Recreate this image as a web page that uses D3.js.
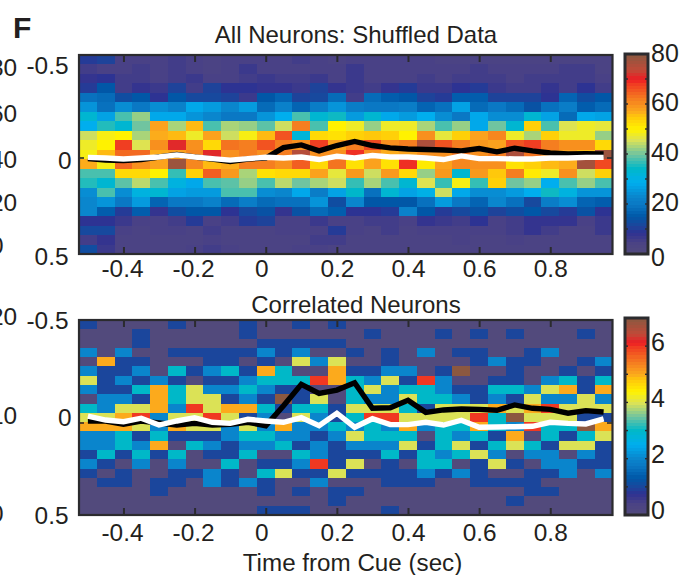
<!DOCTYPE html>
<html>
<head>
<meta charset="utf-8">
<script src="https://cdn.jsdelivr.net/npm/d3@7"></script>
<style>
  html, body { margin: 0; padding: 0; background: #fff; overflow: hidden; }
  text { font-family: "Liberation Sans", Arial, sans-serif; fill: #231f20; }
</style>
</head>
<body>
<script>
// time bins, sec
const timeBins = [-0.5,-0.45,-0.4,-0.35,-0.3,-0.25,-0.2,-0.15,-0.1,-0.05,0,0.05,0.1,0.15,0.2,0.25,0.3,0.35,0.4,0.45,0.5,0.55,0.6,0.65,0.7,0.75,0.8,0.85,0.9,0.95];
const xTicks = [-0.4,-0.2,0,0.2,0.4,0.6,0.8];
const yTicks = [-0.5,0,0.5];
const rowBins = d3.range(21);

// all neurons, shuffled: one line per row, top to bottom
const shuffledCounts = [
  [10,11,5,5,5,6,5,4,5,5, 5,5,6,5,4,5,5,5,5,5, 4,4,4,4,4,4,4,4,4,4],
  [6,5,5,6,5,6,5,4,5,7, 5,5,5,5,5,7,5,5,5,5, 5,5,6,5,5,5,5,6,6,4],
  [8,9,6,6,5,6,7,5,5,6, 7,6,6,7,5,7,5,5,5,6, 5,6,6,6,5,6,6,6,6,5],
  [10,15,6,8,7,11,6,11,9,9, 8,8,7,11,8,7,6,8,10,7, 7,9,10,7,6,6,8,6,9,6],
  [19,18,13,15,9,15,12,12,11,7, 15,17,11,12,18,6,18,16,15,11, 10,16,16,11,11,11,9,17,13,15],
  [25,19,24,20,24,22,28,26,23,26, 18,22,17,21,25,21,20,20,21,17, 19,27,18,20,18,14,19,21,16,18],
  [33,27,38,42,28,28,25,23,20,20, 25,29,38,33,35,26,33,28,26,29, 24,20,28,24,24,33,27,18,28,27],
  [29,36,33,40,58,43,56,38,43,42, 39,45,62,38,50,48,42,48,48,43, 38,42,28,40,33,54,38,46,48,47],
  [45,49,50,43,57,56,48,58,45,49, 56,66,32,53,52,54,55,54,50,60, 47,54,58,61,48,43,54,48,48,42],
  [48,50,68,46,60,71,60,53,63,62, 66,62,60,68,58,62,67,60,62,76, 66,62,59,58,66,68,62,60,60,53],
  [49,56,64,64,57,58,61,71,60,62, 60,62,75,60,60,69,60,57,58,60, 60,63,60,62,76,63,60,58,56,78],
  [57,49,64,60,58,78,61,56,57,62, 62,60,65,53,63,52,58,52,69,51, 58,61,60,60,52,54,56,57,77,67],
  [38,38,53,53,50,37,54,65,59,43, 52,53,53,58,47,59,45,59,53,42, 59,33,59,55,62,51,48,60,45,54],
  [36,33,39,44,38,31,28,38,39,42, 38,44,40,43,45,37,43,38,33,46, 37,49,37,54,40,42,29,38,42,38],
  [24,38,24,31,33,27,26,26,38,38, 24,23,28,21,27,34,19,33,27,30, 45,28,24,24,26,29,35,31,25,25],
  [23,25,20,26,17,20,20,22,18,21, 18,19,19,25,13,23,15,15,15,19, 26,20,17,23,19,12,21,24,17,16],
  [23,16,10,16,8,13,15,15,9,12, 14,8,14,18,16,9,9,10,22,15, 10,12,14,11,13,15,12,10,14,9],
  [9,9,7,5,5,6,10,5,6,10, 11,5,5,7,5,5,6,6,5,8, 7,6,9,5,6,8,8,8,5,7],
  [12,12,5,4,5,5,4,6,4,4, 4,5,5,5,10,5,4,6,4,5, 5,5,5,5,6,8,6,4,4,7],
  [6,8,4,4,4,4,4,5,4,4, 4,4,4,6,6,4,4,4,4,4, 4,5,4,4,5,4,4,4,4,4],
  [13,7,4,4,4,4,5,6,5,4, 4,4,5,5,4,4,4,4,4,4, 4,4,4,4,4,4,4,4,4,4]
];

// correlated neurons
const correlatedCounts = [
  [1,0,0,0,0,1,0,0,0,1, 0,0,1,0,1,0,0,0,0,0, 0,0,0,0,0,0,0,0,0,0],
  [0,0,0,1,0,0,0,0,0,1, 0,0,0,0,0,0,1,0,0,0, 1,0,1,0,1,0,0,0,1,0],
  [0,0,0,1,0,0,0,0,0,0, 1,1,1,1,1,0,0,0,0,0, 0,0,0,0,0,0,0,0,0,0],
  [2,0,2,0,0,1,1,1,1,1, 2,1,2,0,0,1,0,1,0,2, 0,1,1,0,0,1,2,0,0,0],
  [0,5,1,1,0,0,0,1,1,0, 1,0,4,2,4,0,0,1,0,0, 0,0,1,2,1,1,0,0,1,2],
  [2,1,1,2,0,3,1,2,3,1, 5,3,0,0,5,1,1,2,2,0, 1,7,0,0,1,0,0,1,0,1],
  [4,1,2,1,2,1,0,1,1,2, 3,3,3,6,5,3,2,4,1,6, 2,0,0,1,1,0,2,3,1,3],
  [2,1,1,3,5,3,4,2,2,3, 2,1,1,0,0,3,4,2,3,3, 2,1,1,3,3,2,4,5,1,5],
  [0,2,2,1,5,3,4,4,1,2, 1,7,1,4,0,3,2,2,4,3, 3,2,1,2,1,4,2,2,4,2],
  [3,2,4,4,5,2,6,4,5,5, 3,1,3,3,1,4,4,4,3,1, 4,4,4,5,4,5,6,4,4,4],
  [4,4,5,6,2,4,4,6,4,1, 2,0,4,2,1,3,6,6,4,4, 4,4,6,3,7,4,4,4,1,1],
  [5,5,5,4,2,5,4,4,2,4, 2,5,2,2,3,2,3,2,5,2, 3,3,5,3,2,6,3,3,7,5],
  [2,2,3,1,3,1,1,1,2,3, 3,2,2,1,2,4,3,3,3,0, 3,2,3,1,5,0,3,1,3,4],
  [2,2,3,2,5,0,3,2,1,2, 2,3,1,2,1,2,2,2,4,1, 3,4,1,3,4,3,1,4,4,1],
  [1,3,1,3,1,3,0,1,1,3, 0,0,3,2,1,1,1,3,1,3, 2,3,4,2,0,2,2,0,2,1],
  [2,1,0,2,0,2,0,0,3,0, 1,1,2,6,1,4,0,1,0,3, 3,0,1,4,1,0,2,2,1,1],
  [1,0,1,0,0,1,1,2,1,0, 3,4,1,1,4,1,1,1,1,2, 1,2,1,0,0,1,1,2,0,2],
  [0,1,1,0,1,1,0,2,1,2, 1,0,0,2,0,0,0,1,1,1, 0,0,1,1,1,1,0,0,0,0],
  [0,0,0,0,1,0,0,0,0,0, 1,0,1,0,1,1,0,0,0,0, 0,0,0,0,0,1,1,0,0,0],
  [0,0,0,0,0,0,0,0,0,0, 0,0,0,0,1,0,0,0,0,0, 0,0,0,0,1,0,0,0,0,0],
  [0,0,0,0,0,0,0,0,0,0, 1,1,1,0,0,0,0,1,0,0, 0,0,0,0,0,0,0,0,0,0]
];

// peak lag lines
const shuffledBlack = [.003,.011,.013,.008,-.005,-.018,-.005,.005,.018,.005,0,-.054,-.068,-.037,-.065,-.086,-.065,-.053,-.047,-.044,-.042,-.037,-.049,-.032,-.051,-.037,-.026,-.021,-.023,-.021];
const shuffledWhite = [-.003,0,.005,0,-.005,-.016,-.005,.003,.011,.003,-.004,0,-.005,.008,-.009,0,-.013,-.005,-.005,0,.008,-.011,.003,.003,.005,.005,0,0,-.003,-.003];
const correlatedBlack = [-.011,-.011,.007,-.011,0,.011,.002,.011,.007,-.004,.015,-.094,-.21,-.161,-.179,-.219,-.08,-.083,-.123,-.058,-.071,-.076,-.074,-.069,-.098,-.08,-.074,-.053,-.067,-.06];
const correlatedWhite = [-.038,-.016,-.007,-.026,.011,-.011,-.029,-.004,.002,-.02,-.011,-.004,-.029,.015,-.053,.023,-.023,.009,.009,-.004,.011,-.015,.023,.022,.02,.018,-.004,.002,.005,-.022];

// colormap, fraction of range
const cmapStops = [0,.06,.11,.143,.19,.25,.286,.36,.4286,.5,.571,.625,.69,.714,.78,.857,.875,.92,1];
const cmapColors = ["#524a7c","#4a4285","#2e3192","#1b469c","#0058a8","#0a78c4","#0a85cc","#00aeef","#00b8c8","#70c4a0","#dbe257","#fff200","#ffc60b","#fcaa1c","#f47a20","#f03822","#ed1c24","#c04a38","#8c5840"];
const cmap = d3.scaleLinear().domain(cmapStops).range(cmapColors).interpolate(d3.interpolateRgb).clamp(true);

const svg = d3.select("body").append("svg")
  .attr("width", 681)
  .attr("height", 575)
  .style("display", "block");

const axisFont = 24.4;
const x = d3.scaleLinear().domain([-0.525, 0.975]).range([79, 612.5]);

function drawPanel(o) {
  let g = svg.append("g");
  let colBand = d3.scaleBand().domain(timeBins).range(x.range());
  let rowBand = d3.scaleBand().domain(rowBins).range([o.top, o.bottom]);
  let y = d3.scaleLinear().domain([0, 0.5]).range([o.zero, o.bottom]);

  o.counts.forEach((row, r) => {
    g.append("g").attr("shape-rendering", "crispEdges").selectAll("rect")
      .data(row)
      .enter().append("rect")
      .attr("x", (d, i) => colBand(timeBins[i]))
      .attr("y", rowBand(r))
      .attr("width", colBand.bandwidth() + 0.5)
      .attr("height", rowBand.bandwidth() + 0.5)
      .attr("fill", d => cmap(d / o.max));
  });

  let line = d3.line().x((d, i) => x(timeBins[i])).y(d => y(d));
  g.append("path").attr("d", line(o.black))
    .attr("fill", "none").attr("stroke", "#000").attr("stroke-width", 5.4);
  g.append("path").attr("d", line(o.white))
    .attr("fill", "none").attr("stroke", "#fff").attr("stroke-width", 5.4);

  // box and inside ticks
  g.append("rect")
    .attr("x", x.range()[0]).attr("y", o.top)
    .attr("width", x.range()[1] - x.range()[0]).attr("height", o.bottom - o.top)
    .attr("fill", "none").attr("stroke", "#2b2b2e").attr("stroke-width", 2.2);

  let tickBottom = g.append("g").attr("transform", `translate(0,${o.bottom})`)
    .call(d3.axisBottom(x).tickValues(xTicks).tickSize(-7).tickFormat(d => d === 0 ? "0" : d3.format(".1f")(d).replace("\u2212", "-")));
  tickBottom.select(".domain").remove();
  tickBottom.selectAll("line").attr("stroke", "#2b2b2e").attr("stroke-width", 2);
  tickBottom.selectAll("text").attr("font-size", axisFont).style("font-family", null)
    .attr("x", d => d === 0 ? -4.5 : (d < 0 ? -1.5 : 0))
    .attr("y", o.labelY - o.bottom).attr("dy", "0.35em");

  let tickTop = g.append("g").attr("transform", `translate(0,${o.top})`)
    .call(d3.axisTop(x).tickValues(xTicks).tickSize(-7).tickFormat(""));
  tickTop.select(".domain").remove();
  tickTop.selectAll("line").attr("stroke", "#2b2b2e").attr("stroke-width", 2);

  // zero marks on both sides
  [[79, 84], [607, 612]].forEach(p => {
    g.append("line").attr("x1", p[0]).attr("x2", p[1]).attr("y1", y(0)).attr("y2", y(0))
      .attr("stroke", "#2b2b2e").attr("stroke-width", 1.6);
  });

  let labelScale = d3.scaleLinear().domain([-0.5, 0.5]).range(o.yLabelRange);
  g.selectAll(".ylab").data(yTicks).enter().append("text")
    .attr("x", d => d === 0 ? 71.5 : 68.5).attr("y", d => labelScale(d)).attr("dy", "0.35em")
    .attr("text-anchor", "end").attr("font-size", axisFont)
    .text(d => d === 0 ? "0" : String(d));

  g.append("text").attr("x", 356).attr("y", o.titleY).attr("dy", "0.35em")
    .attr("text-anchor", "middle").attr("font-size", o.titleFont).text(o.title);

  // colorbar
  let cbar = d3.scaleLinear().domain([0, o.barMax]).range([o.barBottom, o.barTop]);
  let levels = d3.range(64);
  g.append("g").attr("shape-rendering", "crispEdges").selectAll("rect").data(levels).enter().append("rect")
    .attr("x", 625).attr("width", 23)
    .attr("y", d => cbar((d + 1) / 64 * o.barMax))
    .attr("height", (o.barBottom - o.barTop) / 64 + 0.5)
    .attr("fill", d => cmap((d + 0.5) / 64));
  g.append("rect").attr("x", 625).attr("y", o.barTop).attr("width", 23).attr("height", o.barBottom - o.barTop)
    .attr("fill", "none").attr("stroke", "#2b2b2e").attr("stroke-width", 3);
  o.barMinor.forEach(v => {
    [[625, 628], [645, 648]].forEach(p => {
      g.append("line").attr("x1", p[0]).attr("x2", p[1]).attr("y1", cbar(v)).attr("y2", cbar(v))
        .attr("stroke", "#2b2b2e").attr("stroke-width", 1.4);
    });
  });
  g.selectAll(".barlab").data(o.barLabels).enter().append("text")
    .attr("x", 651).attr("y", (d, i) => o.barLabelY[i]).attr("dy", "0.35em")
    .attr("font-size", 25).text(d => d);
}

drawPanel({
  counts: shuffledCounts, max: 80, black: shuffledBlack, white: shuffledWhite,
  top: 55, bottom: 254, zero: 158, labelY: 268, yLabelRange: [65.5, 256],
  title: "All Neurons: Shuffled Data", titleY: 35, titleFont: 24,
  barTop: 54, barBottom: 254, barMax: 80, barMinor: [10,20,30,40,50,60,70],
  barLabels: [80,60,40,20,0], barLabelY: [53,102,152,202,257]
});

drawPanel({
  counts: correlatedCounts, max: 7, black: correlatedBlack, white: correlatedWhite,
  top: 320, bottom: 515, zero: 423, labelY: 532, yLabelRange: [320, 515],
  title: "Correlated Neurons", titleY: 305, titleFont: 24,
  barTop: 318, barBottom: 515, barMax: 7, barMinor: [1,2,3,4,5,6],
  barLabels: [6,4,2,0], barLabelY: [342,398,454,510]
});

svg.append("text").attr("x", 352.5).attr("y", 563).attr("dy", "0.35em")
  .attr("text-anchor", "middle").attr("font-size", 24.2).text("Time from Cue (sec)");

svg.append("text").attr("x", 13).attr("y", 38)
  .attr("font-size", 30).attr("font-weight", "bold").text("F");

// neighbouring panel's colorbar labels, cut off by the page edge
const cutLabels = ["80","60","40","20","0","20","10","0"];
const cutLabelY = [67,113,159,202,245,316,415,513];
svg.selectAll(".cut").data(cutLabels).enter().append("text")
  .attr("x", -10).attr("y", (d, i) => cutLabelY[i]).attr("dy", "0.35em")
  .attr("font-size", axisFont).text(d => d);
</script>
</body>
</html>
